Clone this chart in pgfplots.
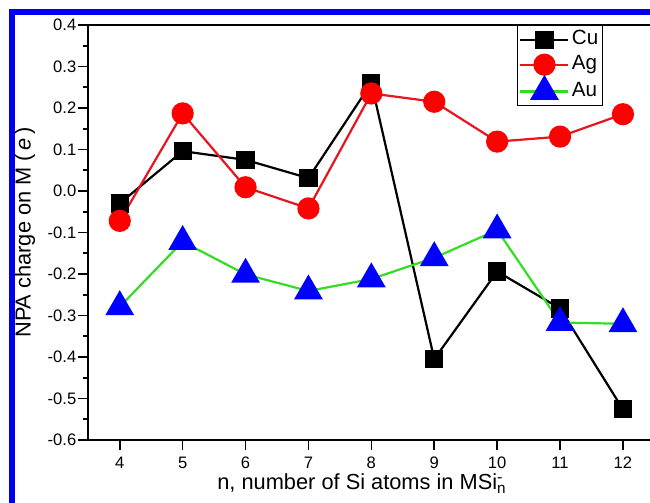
\documentclass[border=0pt]{standalone}
\usepackage{fontspec}
\setmainfont{Liberation Sans}
\usepackage{pgfplots}
\pgfplotsset{compat=1.18}
\definecolor{agred}{HTML}{E8141E}
\definecolor{mkred}{HTML}{FF0000}
\definecolor{augreen}{HTML}{33DD22}
\definecolor{aublue}{HTML}{0000FF}
\definecolor{frameblue}{HTML}{0000F0}
\begin{document}
\begin{tikzpicture}
\useasboundingbox (-44.15pt,-31.5pt) rectangle (280.85pt,220pt);
\clip (-44.15pt,-31.5pt) rectangle (280.85pt,220pt);
\draw[frameblue, line width=3pt] (-38.15pt,-60pt) rectangle (400pt,214pt);
\begin{axis}[
  at={(0pt,0pt)}, anchor=south west,
  scale only axis, width=283.05pt, height=207.5pt,
  xmin=3.5, xmax=12.5, ymin=-0.6, ymax=0.4,
  xtick={4,5,6,7,8,9,10,11,12},
  ytick={-0.6,-0.5,-0.4,-0.3,-0.2,-0.1,0,0.1,0.2,0.3,0.4},
  minor y tick num=1,
  tick align=outside,
  xtick pos=bottom, ytick pos=left,
  major tick length=5pt, minor tick length=2.5pt,
  every tick/.style={black, line width=0.8pt},
  axis line style={line width=1pt},
  /pgf/number format/assume math mode=true,
  y tick label style={/pgf/number format/fixed, /pgf/number format/fixed zerofill, /pgf/number format/precision=1, inner sep=0.8pt},
  ticklabel style={font=\fontsize{8.3}{10}\selectfont},
  xlabel={n, number of Si atoms in MSi\rlap{\textsuperscript{\fontsize{8}{8}\selectfont -}}\textsubscript{n}},
  ylabel={NPA charge on M (\,\textit{e}\,)},
  label style={font=\fontsize{10.9}{12}\selectfont},
  xlabel style={at={(axis description cs:0.4835,0)}, anchor=base, yshift=-25pt},
  ylabel style={at={(axis description cs:-0.1118,0.5)}, anchor=center},
  legend style={at={(axis description cs:0.757,1)}, anchor=north west, draw=black, line width=0.5pt,
    font=\fontsize{10.3}{12}\selectfont, inner sep=1pt, row sep=0pt,
    nodes={inner sep=1.2pt, text height=7.5pt, text depth=2.5pt}},
  legend cell align=left,
  legend image code/.code={\draw[mark repeat=2, mark phase=2, #1] plot coordinates {(0pt,0pt) (12pt,0pt) (24pt,0pt)};},
]
\addplot[black, line width=1.1pt, mark=square*, mark size=4pt, mark options={solid, fill=black}] coordinates {
(4,-0.030) (5,0.096) (6,0.075) (7,0.031) (8,0.260) (9,-0.405) (10,-0.194) (11,-0.283) (12,-0.526)};
\addlegendentry{Cu}
\addplot[agred, line width=1.1pt, mark=*, mark size=5pt, mark options={solid, fill=mkred, draw=mkred}] coordinates {
(4,-0.072) (5,0.187) (6,0.009) (7,-0.042) (8,0.235) (9,0.215) (10,0.119) (11,0.131) (12,0.185)};
\addlegendentry{Ag}
\addplot[augreen, line width=1.1pt, mark=triangle*, mark size=7.2pt, mark options={solid, fill=aublue, draw=aublue}] coordinates {
(4,-0.279) (5,-0.122) (6,-0.201) (7,-0.241) (8,-0.212) (9,-0.161) (10,-0.094) (11,-0.317) (12,-0.320)};
\addlegendentry{Au}
\end{axis}
\end{tikzpicture}
\end{document}
